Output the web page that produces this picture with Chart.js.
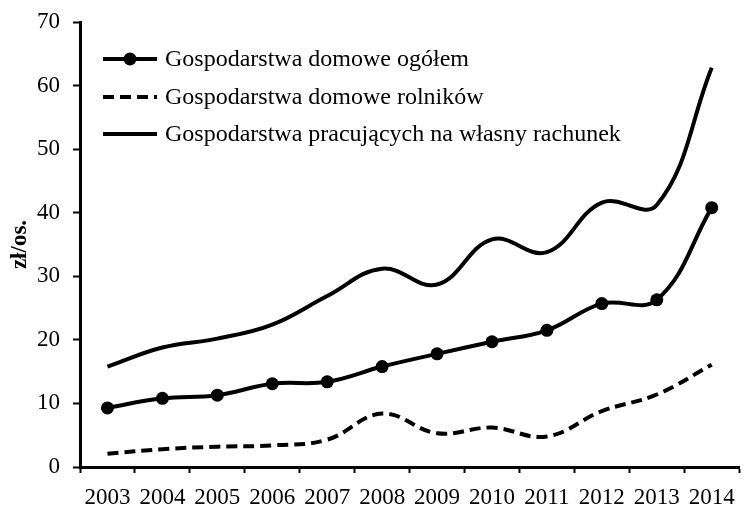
<!DOCTYPE html>
<html>
<head>
<meta charset="utf-8">
<script src="https://cdn.jsdelivr.net/npm/chart.js@4.4.0/dist/chart.umd.min.js"></script>
<style>
  html, body { margin: 0; padding: 0; background: #fff; }
  #wrap { width: 746px; height: 506px; }
</style>
</head>
<body>
<div id="wrap"><canvas id="chart"></canvas></div>
<script>
// Data (zł/os.)
const years = ['2003', '2004', '2005', '2006', '2007', '2008', '2009', '2010', '2011', '2012', '2013', '2014'];
const ogolem = [9.3, 10.8, 11.3, 13.1, 13.4, 15.8, 17.8, 19.7, 21.5, 25.7, 26.3, 40.8];
const rolnikow = [2.1, 2.8, 3.2, 3.4, 4.3, 8.4, 5.3, 6.2, 4.8, 8.8, 11.4, 16.1];
const pracujacych = [15.8, 18.8, 20.2, 22.4, 26.9, 31.2, 28.7, 35.8, 33.8, 41.6, 41.2, 62.8];
const seriesNames = [
    'Gospodarstwa domowe ogółem',
    'Gospodarstwa domowe rolników',
    'Gospodarstwa pracujących na własny rachunek'
];
const yMin = 0, yMax = 70, yStep = 10;

const FONT = '"Liberation Serif", "Times New Roman", serif';

// legend drawn inside the plot, top left
const innerLegend = {
    id: 'innerLegend',
    afterDraw(chart) {
        const c = chart.ctx;
        const rows = [59, 97, 134];
        c.save();
        chart.data.datasets.forEach((ds, i) => {
            const y = rows[i];
            c.strokeStyle = '#000';
            c.lineWidth = ds.borderWidth;
            c.setLineDash(ds.borderDash || []);
            c.beginPath();
            c.moveTo(103, y);
            c.lineTo(157, y);
            c.stroke();
            c.setLineDash([]);
            if (ds.pointRadius > 0) {
                c.fillStyle = '#000';
                c.beginPath();
                c.arc(130, y, ds.pointRadius, 0, Math.PI * 2);
                c.fill();
            }
            c.fillStyle = '#000';
            c.font = '24px ' + FONT;
            c.textBaseline = 'middle';
            c.fillText(ds.label, 165, y + 1);
        });
        c.restore();
    }
};

Chart.defaults.font.family = FONT;
Chart.defaults.color = '#000';

new Chart(document.getElementById('chart'), {
    type: 'line',
    data: {
        labels: years,
        datasets: [
            {
                label: seriesNames[0],
                data: ogolem,
                borderColor: '#000',
                backgroundColor: '#000',
                borderWidth: 4,
                pointRadius: 6.5,
                pointBorderWidth: 0,
                tension: 0.4
            },
            {
                label: seriesNames[1],
                data: rolnikow,
                borderColor: '#000',
                borderWidth: 4,
                borderDash: [11, 6],
                pointRadius: 0,
                tension: 0.4
            },
            {
                label: seriesNames[2],
                data: pracujacych,
                borderColor: '#000',
                borderWidth: 4,
                pointRadius: 0,
                tension: 0.4
            }
        ]
    },
    options: {
        responsive: true,
        maintainAspectRatio: false,
        animation: false,
        layout: { padding: { top: 22, right: 2, left: 0, bottom: 0 } },
        plugins: {
            legend: { display: false },
            tooltip: { enabled: false }
        },
        scales: {
            x: {
                offset: true,
                grid: {
                    offset: true,
                    drawOnChartArea: false,
                    tickLength: 6,
                    tickWidth: 2,
                    tickColor: '#000'
                },
                border: { color: '#000', width: 3 },
                ticks: {
                    font: { size: 23 },
                    padding: 11,
                    maxRotation: 0,
                    autoSkip: false
                },
                afterFit(scale) { scale.height = 39; }
            },
            y: {
                min: yMin,
                max: yMax,
                grid: {
                    drawOnChartArea: false,
                    tickLength: 7,
                    tickWidth: 2,
                    tickColor: '#000'
                },
                border: { color: '#000', width: 3 },
                ticks: {
                    stepSize: yStep,
                    font: { size: 23 },
                    padding: 13
                },
                title: {
                    display: true,
                    text: 'zł/os.',
                    font: { size: 23, weight: 'bold' },
                    padding: { top: 6, bottom: 0 }
                },
                afterFit(scale) {
                    scale.width = 80;
                    scale.paddingTop = 0;
                    scale.paddingBottom = 0;
                }
            }
        }
    },
    plugins: [innerLegend]
});
</script>
</body>
</html>
